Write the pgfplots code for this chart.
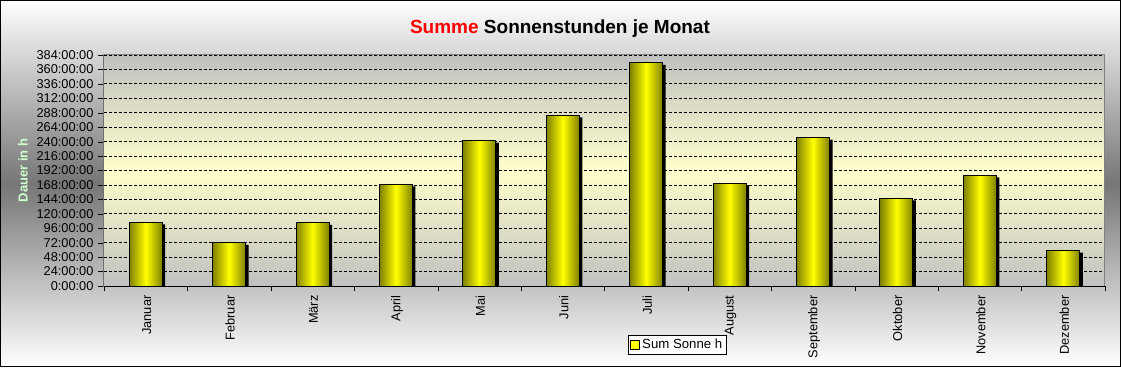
\documentclass[border=0pt]{standalone}
\usepackage{pgfplots}
\pgfplotsset{compat=1.18}
\usepackage{pgfplotstable}
\usepackage{fontspec}
\setmainfont{Liberation Sans}
\definecolor{bargold}{RGB}{128,128,0}
\definecolor{baryel}{RGB}{255,255,0}
\definecolor{plotgray}{RGB}{192,192,192}
\definecolor{plotyel}{RGB}{255,255,204}
\definecolor{bgmid}{RGB}{118,118,118}
\definecolor{lblgreen}{RGB}{204,255,204}
\pgfplotstableread{
x h
0 106
1 72
2 105
3 169
4 242
5 284
6 371
7 171
8 247
9 146
10 184
11 59
}\sonne
\begin{document}
\begin{tikzpicture}
\shade[top color=white, bottom color=white, middle color=bgmid] (0pt,0pt) rectangle (1121pt,367pt);
\begin{axis}[
  at={(104pt,81pt)}, anchor=south west,
  scale only axis, width=1001pt, height=231pt,
  xmin=-0.5, xmax=11.5, ymin=0, ymax=384,
  axis background/.style={shade, top color=plotgray, bottom color=plotgray, middle color=plotyel},
  axis line style={draw=gray, line width=1pt},
  xtick={0,...,11},
  xticklabels={Januar,Februar,März,April,Mai,Juni,Juli,August,September,Oktober,November,Dezember},
  major x tick style={draw=none},
  minor xtick={-0.5,0.5,...,11.5},
  minor x tick style={draw=black},
  minor tick length=5pt,
  ytick={0,24,...,384},
  yticklabels={0:00:00,24:00:00,48:00:00,72:00:00,96:00:00,120:00:00,144:00:00,168:00:00,192:00:00,216:00:00,240:00:00,264:00:00,288:00:00,312:00:00,336:00:00,360:00:00,384:00:00},
  tick align=outside,
  major tick length=6pt,
  y tick style={draw=black},
  tick pos=left,
  ymajorgrids,
  grid style={black, dash pattern=on 3pt off 2pt, line width=0.8pt},
  xticklabel style={rotate=90, anchor=east, font=\fontsize{12.8}{15}\selectfont, yshift=-1pt},
  yticklabel style={font=\fontsize{12.8}{14}\selectfont, xshift=-1pt},
  /pgf/number format/assume math mode=true,
  ylabel={Dauer in h},
  every axis y label/.style={at={(axis description cs:-0.081,0.5)}, rotate=90, anchor=center, font=\bfseries\fontsize{13}{15}\selectfont, text=lblgreen},
  title={\textcolor{red}{Summe} Sonnenstunden je Monat},
  every axis title/.style={at={(axis description cs:0.4555,1.1126)}, anchor=center, font=\bfseries\fontsize{19}{21}\selectfont},
  legend style={at={(axis description cs:0.5235,-0.212)}, anchor=north west, draw=black, fill=white, font=\fontsize{13.2}{15}\selectfont, inner sep=2pt, row sep=0pt},
  legend cell align=left,
  ybar,
  bar width=33pt,
  cyl/.style={bar shift=0pt, draw=black, line width=1pt, left color=bargold, right color=bargold, middle color=baryel, forget plot},
]
\addplot[forget plot, bar shift=3pt, fill=black, draw=none] table[x=x, y expr=\thisrow{h}-3.5] {\sonne};
\addplot[cyl] coordinates {(0,106)};
\addplot[cyl] coordinates {(1,72)};
\addplot[cyl] coordinates {(2,105)};
\addplot[cyl] coordinates {(3,169)};
\addplot[cyl] coordinates {(4,242)};
\addplot[cyl] coordinates {(5,284)};
\addplot[cyl] coordinates {(6,371)};
\addplot[cyl] coordinates {(7,171)};
\addplot[cyl] coordinates {(8,247)};
\addplot[cyl] coordinates {(9,146)};
\addplot[cyl] coordinates {(10,184)};
\addplot[cyl] coordinates {(11,59)};
\addlegendimage{area legend, fill=baryel, draw=black, line width=1pt,
  legend image code/.code={\draw[fill=baryel, draw=black, line width=1pt] (0pt,-4.5pt) rectangle (9pt,4.5pt);}}
\addlegendentry{Sum Sonne h}
\draw[black, line width=1pt] (rel axis cs:0,1) -- (rel axis cs:0,0) -- (rel axis cs:1,0);
\end{axis}
\draw[black, line width=1pt] (0.5pt,0.5pt) rectangle (1120.5pt,366.5pt);
\pgfresetboundingbox
\useasboundingbox (0pt,0pt) rectangle (1121pt,367pt);
\end{tikzpicture}
\end{document}
